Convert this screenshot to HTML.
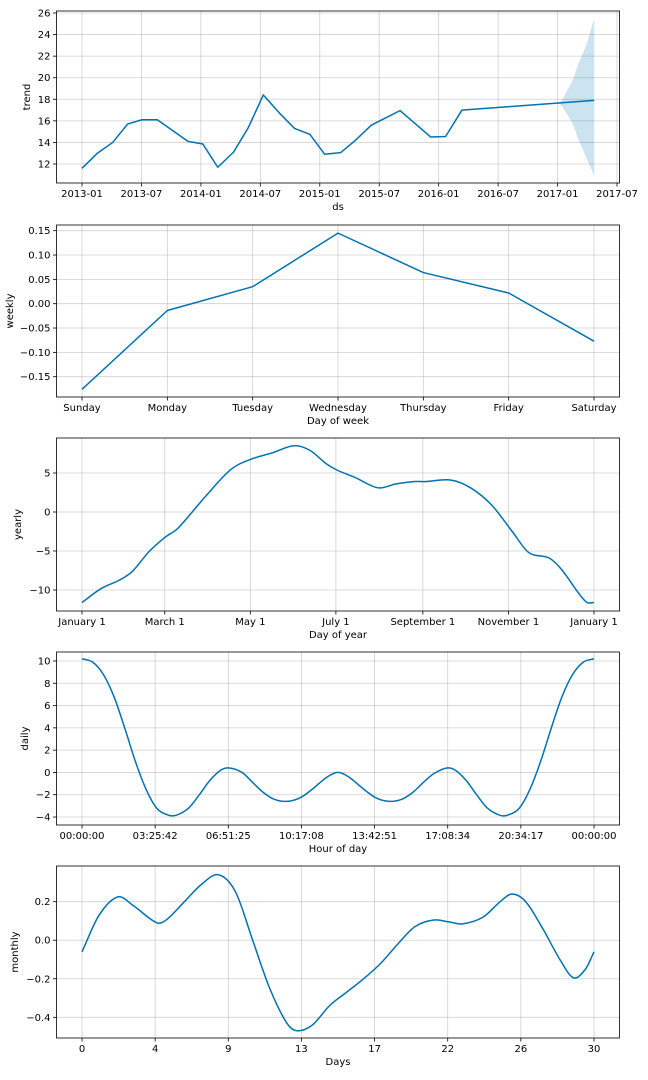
<!DOCTYPE html>
<html><head><meta charset="utf-8">
<style>
html,body{margin:0;padding:0;background:#fff;}
svg{display:block;font-family:"DejaVu Sans","Liberation Sans",sans-serif;}
</style></head>
<body>
<svg id="chart" width="648" height="1080" viewBox="0 0 648 1080" xmlns="http://www.w3.org/2000/svg"></svg>
<script>
// ---- Trend panel data (months since 2013-01) ----
const trendMonths = [0,1.55,3.1,4.6,6.05,7.6,10.7,12.2,13.7,15.3,16.8,18.3,19.95,21.45,23.0,24.5,26.1,27.6,29.2,32.1,35.2,36.7,38.35,48.1,51.7];
const trendValues = [11.6,13.0,14.0,15.7,16.1,16.1,14.1,13.85,11.7,13.1,15.4,18.4,16.7,15.3,14.75,12.9,13.05,14.2,15.6,16.95,14.5,14.55,17.0,17.65,17.9];
const bandMonths = [48.1,48.5,49.5,50.1,50.9,51.7];
const bandUpper = [17.65,18.0,19.7,21.3,23.0,25.5];
const bandLower = [17.65,17.3,15.8,14.3,12.6,10.9];
const trendTickLabels = ["2013-01","2013-07","2014-01","2014-07","2015-01","2015-07","2016-01","2016-07","2017-01","2017-07"];
const trendYTicks = [12,14,16,18,20,22,24,26];
// ---- Weekly ----
const weekDays = ["Sunday","Monday","Tuesday","Wednesday","Thursday","Friday","Saturday"];
const weeklyValues = [-0.176,-0.014,0.035,0.145,0.064,0.022,-0.077];
const weeklyYTicks = [-0.15,-0.10,-0.05,0.00,0.05,0.10,0.15];
// ---- Yearly ----
const yearlyDays = [0,13.8,27,36,47.7,59.5,68.3,89,106.5,121,136,151,162.5,174,181.5,195,211,224,236,245,262.6,277,292,306.7,318.5,333,342,354,360,365];
const yearlyValues = [-11.6,-9.8,-8.7,-7.6,-5.1,-3.2,-2.1,2.2,5.5,6.8,7.6,8.5,7.9,6.2,5.4,4.4,3.1,3.6,3.9,3.9,4.1,3.1,0.9,-2.5,-5.2,-5.9,-7.4,-10.4,-11.6,-11.6];
const yearlyTickLabels = ["January 1","March 1","May 1","July 1","September 1","November 1","January 1"];
const yearlyTickDays = [0,59,120,181,243,304,365];
const yearlyYTicks = [-10,-5,0,5];
// ---- Daily (hours) ----
const dailyHours = [0,0.5,1,1.5,2,2.5,3,3.5,4,4.4,5,5.5,6,6.5,6.9,7.5,8,8.5,9,9.6,10.2,10.8,11.5,12,12.5,13.2,13.8,14.4,15,15.5,16,16.5,17.1,17.5,18,18.5,19,19.6,20,20.5,21,21.5,22,22.5,23,23.5,24];
const dailyValues = [10.2,9.9,8.8,6.8,4.0,1.0,-1.5,-3.2,-3.8,-3.85,-3.2,-2.0,-0.7,0.2,0.4,0.0,-0.9,-1.8,-2.4,-2.6,-2.3,-1.5,-0.4,0.0,-0.4,-1.5,-2.3,-2.6,-2.4,-1.8,-0.9,-0.1,0.4,0.2,-0.7,-2.0,-3.2,-3.85,-3.8,-3.2,-1.5,1.0,4.0,6.8,8.8,9.9,10.2];
const dailyTickLabels = ["00:00:00","03:25:42","06:51:25","10:17:08","13:42:51","17:08:34","20:34:17","00:00:00"];
const dailyYTicks = [-4,-2,0,2,4,6,8,10];
// ---- Monthly ----
const monthlyDays = [0,1,2.1,3,4.4,5,6,7,8,9,10,11,12,12.6,13.5,14.5,15.5,16.5,17.5,18.5,19.5,20.6,21.5,22.3,23.5,24.5,25.2,26,27,28,28.8,29.5,30];
const monthlyValues = [-0.06,0.13,0.225,0.18,0.09,0.11,0.2,0.29,0.34,0.25,0.0,-0.25,-0.43,-0.47,-0.44,-0.34,-0.27,-0.2,-0.12,-0.02,0.07,0.105,0.095,0.085,0.12,0.2,0.24,0.2,0.06,-0.1,-0.195,-0.15,-0.06];
const monthlyTickLabels = ["0","4","9","13","17","22","26","30"];
const monthlyYTicks = [-0.4,-0.2,0.0,0.2];

const svg = document.getElementById('chart');
const NS = 'http://www.w3.org/2000/svg';
const L = 56.5, R = 619.5;
const LINE = '#0072B2';

function mk(tag, attrs, parent){
  const e = document.createElementNS(NS, tag);
  for (const k in attrs) e.setAttribute(k, attrs[k]);
  (parent||svg).appendChild(e);
  return e;
}
// cubic Hermite with finite-difference tangents (handles non-uniform spacing)
function smoothPath(pts){
  const n = pts.length;
  const m = pts.map((p,i)=>{
    const a = pts[Math.max(0,i-1)], b = pts[Math.min(n-1,i+1)];
    return (b[1]-a[1])/(b[0]-a[0]);
  });
  let d = 'M' + pts[0][0].toFixed(2) + ',' + pts[0][1].toFixed(2);
  for (let i=0;i<n-1;i++){
    const p1 = pts[i], p2 = pts[i+1], dx = (p2[0]-p1[0])/3;
    d += ' C'+(p1[0]+dx).toFixed(2)+','+(p1[1]+m[i]*dx).toFixed(2)+' '+(p2[0]-dx).toFixed(2)+','+(p2[1]-m[i+1]*dx).toFixed(2)+' '+p2[0].toFixed(2)+','+p2[1].toFixed(2);
  }
  return d;
}
function linePath(pts){ return pts.map((p,i)=>(i?'L':'M')+p[0].toFixed(2)+','+p[1].toFixed(2)).join(' '); }

function panel(cfg){
  const g = mk('g', {});
  
  
  const top = cfg.top, bot = cfg.bot;
  const X0 = cfg.xp0 || 82, X1 = cfg.xp1 || 594;
  const xs = v => X0 + (v - cfg.xmin)/(cfg.xmax - cfg.xmin)*(X1 - X0);
  const ys = v => cfg.yPix0 + (v - cfg.yVal0)/(cfg.yVal1 - cfg.yVal0)*(cfg.yPix1 - cfg.yPix0);
  cfg.xTickVals.forEach((v,i)=>{
    const x = xs(v);
    const gl = mk('line',{x1:x,x2:x,y1:top,y2:bot,stroke:'#b0b0b0','stroke-width':0.8,'stroke-opacity':0.6},g);
    
    
    const tk = mk('line',{x1:x,x2:x,y1:bot,y2:bot+3.5,stroke:'#000','stroke-width':0.8},g);
    
    
    const t = mk('text',{x:x,y:bot+14,'text-anchor':'middle','font-size':10,fill:'#000'},g);
    t.textContent = cfg.xTickLabels[i];
    
    
  });
  cfg.yTicks.forEach(v=>{
    const y = ys(v);
    const gl = mk('line',{x1:L,x2:R,y1:y,y2:y,stroke:'#b0b0b0','stroke-width':0.8,'stroke-opacity':0.6},g);
    
    
    const tk = mk('line',{x1:L-3.5,x2:L,y1:y,y2:y,stroke:'#000','stroke-width':0.8},g);
    
    
    const t = mk('text',{x:L-6,y:y+3.5,'text-anchor':'end','font-size':10,fill:'#000'},g);
    t.textContent = cfg.yFmt(v);
    
    
  });
  if (cfg.band){
    const up = cfg.band.x.map((v,i)=>[xs(v), ys(cfg.band.u[i])]);
    const lo = cfg.band.x.map((v,i)=>[xs(v), ys(cfg.band.l[i])]).reverse();
    const b = mk('path',{d:linePath(up.concat(lo))+' Z',fill:LINE,'fill-opacity':0.2,stroke:'none'},g);
    
    
  }
  const pts = cfg.x.map((v,i)=>[xs(v), ys(cfg.y[i])]);
  const p = mk('path',{d: cfg.smooth ? smoothPath(pts) : linePath(pts), fill:'none', stroke:LINE,'stroke-width':1.5,'stroke-linejoin':'round'},g);
  
  
  const fr = mk('rect',{x:L,y:top,width:R-L,height:bot-top,fill:'none',stroke:'#000','stroke-width':0.8},g);
  
  
  const xl = mk('text',{x:(L+R)/2,y:bot+27,'text-anchor':'middle','font-size':10,fill:'#000'},g);
  xl.textContent = cfg.xLabel;
  
  
  const yl = mk('text',{x:0,y:0,'text-anchor':'middle','font-size':10,fill:'#000',transform:'translate('+cfg.yLabelX+','+((top+bot)/2)+') rotate(-90)'},g);
  yl.textContent = cfg.name;
  
  
}

panel({name:'trend', top:11, bot:183, xmin:0, xmax:54, xp0:82, xp1:617, x:trendMonths, y:trendValues,
  xTickVals: trendTickLabels.map((_,i)=>i*6), xTickLabels: trendTickLabels,
  yTicks: trendYTicks, yFmt: v=>String(v), yVal0:12, yPix0:164, yVal1:26, yPix1:13,
  band:{x:bandMonths,u:bandUpper,l:bandLower}, xLabel:'ds', yLabelX:30, smooth:false});
panel({name:'weekly', top:225, bot:397, xmin:0, xmax:6, x:weekDays.map((_,i)=>i), y:weeklyValues,
  xTickVals: weekDays.map((_,i)=>i), xTickLabels: weekDays,
  yTicks: weeklyYTicks, yFmt: v=>(v<0?'\u2212':'')+Math.abs(v).toFixed(2), yVal0:0.15, yPix0:230.7, yVal1:-0.15, yPix1:376.7,
  xLabel:'Day of week', yLabelX:13, smooth:false});
panel({name:'yearly', top:438, bot:611, xmin:0, xmax:365, x:yearlyDays, y:yearlyValues,
  xTickVals: yearlyTickDays, xTickLabels: yearlyTickLabels,
  yTicks: yearlyYTicks, yFmt: v=>(v<0?'\u2212':'')+Math.abs(v), yVal0:5, yPix0:473, yVal1:-10, yPix1:590,
  xLabel:'Day of year', yLabelX:21, smooth:true});
panel({name:'daily', top:652, bot:825, xmin:0, xmax:24, x:dailyHours, y:dailyValues,
  xTickVals: dailyTickLabels.map((_,i)=>i*24/7), xTickLabels: dailyTickLabels,
  yTicks: dailyYTicks, yFmt: v=>(v<0?'\u2212':'')+Math.abs(v), yVal0:10, yPix0:661, yVal1:-4, yPix1:817,
  xLabel:'Hour of day', yLabelX:28, smooth:true});
panel({name:'monthly', top:866, bot:1038, xmin:0, xmax:30, x:monthlyDays, y:monthlyValues,
  xTickVals: monthlyTickLabels.map((_,i)=>i*30/7), xTickLabels: monthlyTickLabels,
  yTicks: monthlyYTicks, yFmt: v=>(v<0?'\u2212':'')+Math.abs(v).toFixed(1), yVal0:0.2, yPix0:901.7, yVal1:-0.4, yPix1:1017.3,
  xLabel:'Days', yLabelX:18, smooth:true});
</script>
</body></html>
